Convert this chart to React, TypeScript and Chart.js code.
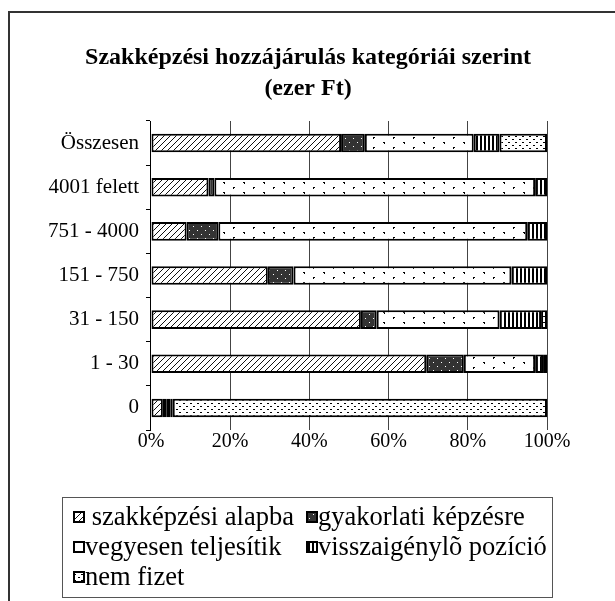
import React, { useEffect, useRef } from 'react';
import { Chart, registerables } from 'chart.js';

Chart.register(...registerables);

const categories = ['Összesen', '4001 felett', '751 - 4000', '151 - 750', '31 - 150', '1 - 30', '0'];
const seriesNames = [' szakképzési alapba', 'gyakorlati képzésre', 'vegyesen teljesítik', 'visszaigénylõ pozíció', 'nem fizet'];
const szakkepzesiAlapba = [48, 14.5, 9, 29.5, 53, 69.5, 3];
const gyakorlatiKepzesre = [6, 1.5, 8, 6.5, 4, 9.5, 1];
const vegyesenTeljesitik = [27.5, 81, 78, 55, 31, 18, 1];
const visszaigenyloPozicio = [6.5, 3, 5, 9, 10.5, 2, 0.5];
const nemFizet = [12, 0, 0, 0, 1.5, 1, 94.5];
const xTickValues = [0, 20, 40, 60, 80, 100];
const titleLines = ['Szakképzési hozzájárulás kategóriái szerint', '(ezer Ft)'];

const FONT = "'Liberation Serif', 'Times New Roman', serif";

function makePattern(kind: string): CanvasPattern | string {
  const c = document.createElement('canvas');
  const ctx = c.getContext('2d');
  if (!ctx) return '#fff';
  const px = (x: number, y: number, col = '#000') => {
    ctx.fillStyle = col;
    ctx.fillRect(x, y, 1, 1);
  };
  if (kind === 'hatch') {
    c.width = 6; c.height = 6;
    ctx.fillStyle = '#fff'; ctx.fillRect(0, 0, 6, 6);
    for (let i = 0; i < 6; i++) px(i, 5 - i, '#111');
  } else if (kind === 'dark') {
    c.width = 8; c.height = 8;
    ctx.fillStyle = '#333'; ctx.fillRect(0, 0, 8, 8);
    px(1, 2, '#fff'); px(5, 6, '#fff');
  } else if (kind === 'sparse') {
    c.width = 20; c.height = 10;
    ctx.fillStyle = '#fff'; ctx.fillRect(0, 0, 20, 10);
    px(3, 2); px(4, 2); px(4, 3);
    px(13, 7); px(14, 7); px(13, 8);
  } else if (kind === 'vertical') {
    c.width = 4; c.height = 1;
    ctx.fillStyle = '#fff'; ctx.fillRect(0, 0, 4, 1);
    ctx.fillStyle = '#000'; ctx.fillRect(0, 0, 2, 1);
  } else {
    c.width = 7; c.height = 6;
    ctx.fillStyle = '#fff'; ctx.fillRect(0, 0, 7, 6);
    px(1, 1); px(2, 1);
    px(4, 4); px(5, 4);
  }
  return ctx.createPattern(c, 'repeat') || '#fff';
}

const frameLegendPlugin = {
  id: 'frameLegend',
  beforeDraw(chart: any) {
    const ctx = chart.ctx;
    ctx.save();
    ctx.fillStyle = '#fff';
    ctx.fillRect(0, 0, chart.width, chart.height);
    ctx.strokeStyle = '#333';
    ctx.lineWidth = 2;
    ctx.strokeRect(9, 12, 800, 800);
    ctx.restore();
  },
  afterDraw(chart: any) {
    const ctx = chart.ctx;
    ctx.save();
    // title
    ctx.fillStyle = '#000';
    ctx.textAlign = 'center';
    ctx.textBaseline = 'middle';
    ctx.font = `bold 24px ${FONT}`;
    titleLines.forEach((t, i) => ctx.fillText(t, 308, 58 + i * 31));
    // legend
    ctx.strokeStyle = '#555';
    ctx.lineWidth = 1;
    ctx.strokeRect(62.5, 497.5, 490, 100);
    const colX = [73, 306];
    const rowY = [517, 547, 577];
    ctx.font = `26.5px ${FONT}`;
    ctx.textBaseline = 'middle';
    ctx.textAlign = 'left';
    chart.data.datasets.forEach((ds: any, i: number) => {
      const x = colX[i % 2];
      const y = rowY[Math.floor(i / 2)];
      ctx.fillStyle = ds.backgroundColor;
      ctx.fillRect(x, y - 6, 12, 12);
      ctx.strokeStyle = '#000';
      ctx.lineWidth = 2;
      ctx.strokeRect(x + 1, y - 5, 10, 10);
      ctx.fillStyle = '#000';
      ctx.fillText(ds.label, x + 12, y + 1);
    });
    ctx.restore();
  },
};

export default function App() {
  const ref = useRef<HTMLCanvasElement | null>(null);
  useEffect(() => {
    if (!ref.current) return;
    const patterns = ['hatch', 'dark', 'sparse', 'vertical', 'dots'].map(makePattern);
    const values = [szakkepzesiAlapba, gyakorlatiKepzesre, vegyesenTeljesitik, visszaigenyloPozicio, nemFizet];
    const chart = new Chart(ref.current, {
      type: 'bar',
      data: {
        labels: categories,
        datasets: values.map((d, i) => ({
          label: seriesNames[i],
          data: d,
          backgroundColor: patterns[i] as any,
          borderColor: '#000',
          borderWidth: 2,
          borderSkipped: false,
          barPercentage: 0.42,
          categoryPercentage: 1,
        })),
      },
      options: {
        indexAxis: 'y',
        animation: false,
        responsive: false,
        devicePixelRatio: 1,
        layout: { padding: { left: 41, right: 68, top: 121, bottom: 147 } },
        plugins: {
          legend: { display: false },
          tooltip: { enabled: false },
          title: { display: false },
        },
        scales: {
          x: {
            stacked: true,
            min: 0,
            max: 100,
            afterBuildTicks: (scale: any) => {
              scale.ticks = xTickValues.map((v) => ({ value: v }));
            },
            ticks: {
              callback: (v: any) => `${v}%`,
              color: '#000',
              font: { family: FONT, size: 20, lineHeight: 1 },
              padding: 2,
              maxRotation: 0,
            },
            grid: { color: '#444', lineWidth: 1, drawTicks: false },
            border: { display: false },
          },
          y: {
            stacked: true,
            ticks: {
              color: '#000',
              font: { family: FONT, size: 21 },
              padding: 7,
            },
            grid: { drawOnChartArea: false, offset: true, tickLength: 5, color: '#000' },
            border: { color: '#000', width: 1 },
          },
        },
      },
      plugins: [frameLegendPlugin],
    } as any);
    return () => chart.destroy();
  }, []);
  return (
    <div style={{ position: 'fixed', left: 0, top: 0, width: 615, height: 601 }}>
      <canvas ref={ref} width={615} height={601} style={{ display: 'block' }} />
    </div>
  );
}
